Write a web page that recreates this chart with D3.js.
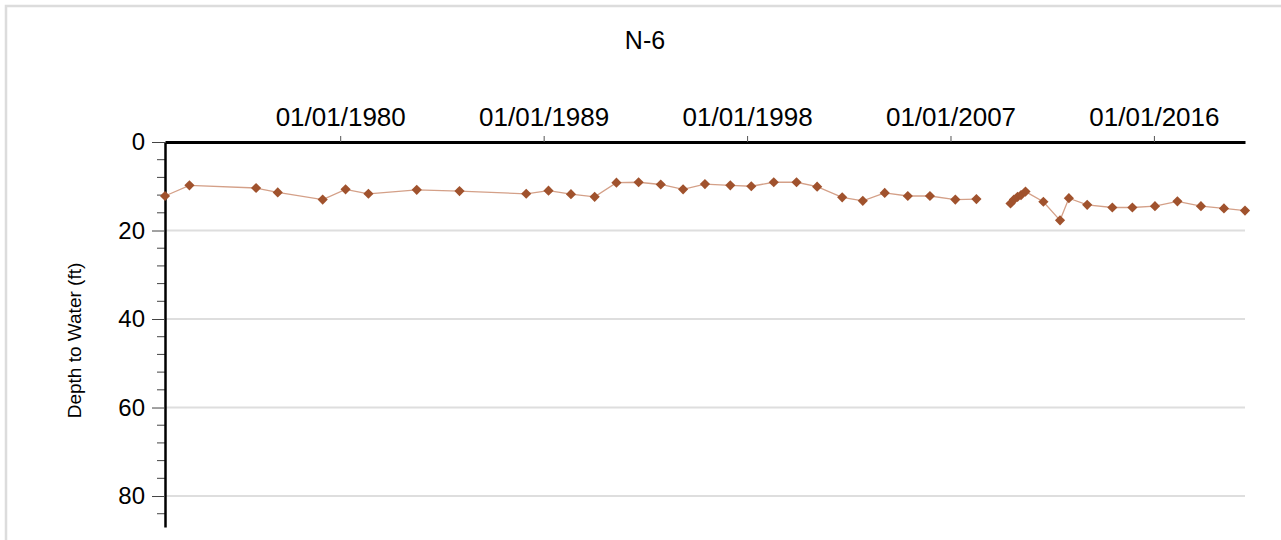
<!DOCTYPE html>
<html>
<head>
<meta charset="utf-8">
<script src="https://cdn.jsdelivr.net/npm/d3@7"></script>
<style>
  html, body { margin: 0; padding: 0; background: #fff; }
  svg { display: block; font-family: "Liberation Sans", Arial, sans-serif; }
</style>
</head>
<body>
<div id="chart"></div>
<script>
// measurement dates (null depth = break in the line)
const dates = [
  '1972-04-01', '1973-05-01', '1976-04-12', '1977-03-28', '1979-03-24', '1980-03-28',
  '1981-04-01', '1983-05-22', '1985-04-12', '1988-03-25', '1989-03-20', '1990-03-18',
  '1991-04-05', '1992-03-22', '1993-03-15', '1994-03-08', '1995-03-04', '1996-02-20',
  '1997-04-05', '1998-03-10', '1999-03-08', '2000-03-10', '2001-02-06', '2002-03-18',
  '2003-02-14', '2004-02-03', '2005-02-10', '2006-02-03', '2007-03-20', '2008-02-24',
  '2009-01-01',
  '2009-08-28', '2009-10-22', '2009-12-20', '2010-02-14', '2010-04-27', '2011-02-10',
  '2011-11-06', '2012-03-28', '2013-01-18', '2014-02-28', '2015-01-18', '2016-01-18',
  '2017-01-15', '2018-01-30', '2019-02-06', '2020-01-12'
];
const depths = [
  12.2, 9.8, 10.4, 11.4, 13.0, 10.7,
  11.7, 10.8, 11.1, 11.7, 11.0, 11.8,
  12.4, 9.2, 9.1, 9.6, 10.7, 9.5,
  9.8, 10.0, 9.1, 9.1, 10.1, 12.5,
  13.3, 11.5, 12.2, 12.2, 13.0, 12.9,
  null,
  13.9, 13.0, 12.4, 12.0, 11.2, 13.5,
  17.7, 12.7, 14.2, 14.8, 14.8, 14.5,
  13.4, 14.5, 15.0, 15.5
];
const xTickDates = ['1980-01-01', '1989-01-01', '1998-01-01', '2007-01-01', '2016-01-01'];
const yTicks = [0, 20, 40, 60, 80];
const title = 'N-6';
const yTitle = 'Depth to Water (ft)';

const W = 1281, H = 540;
const mLeft = 165, mRight = 1245, mTop = 142, mBottom = 527;

const parse = d3.timeParse('%Y-%m-%d');
const data = dates.map((d, i) => ({ date: parse(d), depth: depths[i] }));
const pts = data.filter(d => d.depth != null);

const svg = d3.select('#chart').append('svg')
  .attr('width', W).attr('height', H);

// outer frame
svg.append('rect')
  .attr('x', 6).attr('y', 6)
  .attr('width', W).attr('height', H)
  .attr('fill', 'none')
  .attr('stroke', '#dcdcdc')
  .attr('stroke-width', 2.5);

const x = d3.scaleTime()
  .domain(d3.extent(pts, d => d.date))
  .range([mLeft, mRight]);

const y = d3.scaleLinear()
  .domain([0, 87])
  .range([mTop, mBottom]);

// gridlines
svg.append('g')
  .selectAll('line')
  .data(yTicks.filter(v => v > 0))
  .join('line')
  .attr('x1', mLeft).attr('x2', mRight)
  .attr('y1', d => y(d)).attr('y2', d => y(d))
  .attr('stroke', '#dedede')
  .attr('stroke-width', 2);

// minor y ticks
svg.append('g')
  .selectAll('line')
  .data(d3.range(4, 87, 4).filter(v => v % 20 !== 0))
  .join('line')
  .attr('x1', mLeft - 8).attr('x2', mLeft)
  .attr('y1', d => y(d)).attr('y2', d => y(d))
  .attr('stroke', '#444')
  .attr('stroke-width', 1);

// y axis
const yAxis = svg.append('g')
  .attr('transform', `translate(${mLeft},0)`)
  .call(d3.axisLeft(y).tickValues(yTicks).tickSize(13).tickPadding(7).tickSizeOuter(0));
yAxis.select('.domain').attr('stroke', '#000').attr('stroke-width', 2.5);
yAxis.selectAll('.tick line').attr('stroke', '#444');
yAxis.selectAll('.tick text')
  .attr('font-size', 24)
  .attr('fill', '#000')
  .attr('font-family', '"Liberation Sans", Arial, sans-serif');

// x axis on top
const fmt = d3.timeFormat('%m/%d/%Y');
const xAxis = svg.append('g')
  .attr('transform', `translate(0,${mTop})`)
  .call(d3.axisTop(x).tickValues(xTickDates.map(parse)).tickFormat(fmt).tickSize(6).tickPadding(10).tickSizeOuter(0));
xAxis.select('.domain').attr('stroke', '#000').attr('stroke-width', 3);
xAxis.selectAll('.tick line').attr('stroke', '#555');
xAxis.selectAll('.tick text')
  .attr('font-size', 26)
  .attr('fill', '#000')
  .attr('font-family', '"Liberation Sans", Arial, sans-serif');

// line
const line = d3.line()
  .defined(d => d.depth != null)
  .x(d => x(d.date))
  .y(d => y(d.depth));

svg.append('path')
  .datum(data)
  .attr('d', line)
  .attr('fill', 'none')
  .attr('stroke', '#d4a088')
  .attr('stroke-width', 1.3);

// diamond markers
svg.append('g')
  .selectAll('path')
  .data(pts)
  .join('path')
  .attr('transform', d => `translate(${x(d.date)},${y(d.depth)}) rotate(45)`)
  .attr('d', d3.symbol(d3.symbolSquare, 52))
  .attr('fill', '#a0522d');

// title
svg.append('text')
  .attr('x', 645).attr('y', 49)
  .attr('text-anchor', 'middle')
  .attr('font-size', 25)
  .attr('fill', '#000')
  .text(title);

// y title
svg.append('text')
  .attr('transform', `translate(81,${(mTop + mBottom) / 2 + 6}) rotate(-90)`)
  .attr('text-anchor', 'middle')
  .attr('font-size', 19)
  .attr('fill', '#000')
  .text(yTitle);
</script>
</body>
</html>
